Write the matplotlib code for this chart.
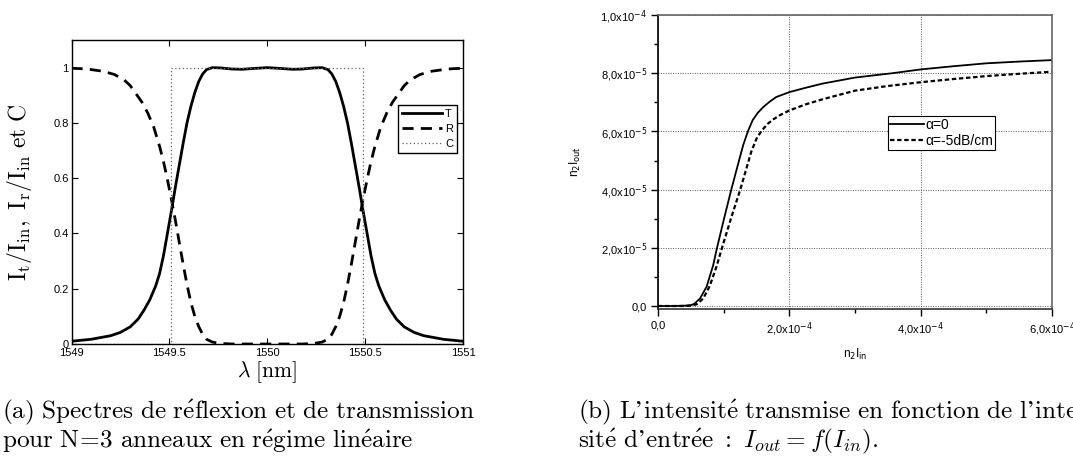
import matplotlib
matplotlib.use("Agg")
import matplotlib.pyplot as plt
import numpy as np

# (a) spectra, N=3 rings, linear regime
wavelength_t = [1549.00, 1549.10, 1549.20, 1549.25, 1549.30, 1549.34, 1549.37, 1549.40,
                1549.43, 1549.45, 1549.47, 1549.49, 1549.51, 1549.53, 1549.55, 1549.57,
                1549.59, 1549.61, 1549.63, 1549.65, 1549.67, 1549.69, 1549.72, 1549.76,
                1549.82, 1549.87, 1549.93, 1550.00, 1550.07, 1550.13, 1550.18, 1550.24,
                1550.28, 1550.31, 1550.33, 1550.35, 1550.37, 1550.39, 1550.41, 1550.43,
                1550.45, 1550.47, 1550.49, 1550.51, 1550.53, 1550.55, 1550.57, 1550.60,
                1550.63, 1550.66, 1550.70, 1550.75, 1550.80, 1550.90, 1551.00]
transmission = [0.010, 0.017, 0.030, 0.042, 0.062, 0.090, 0.122, 0.160,
                0.210, 0.255, 0.320, 0.400, 0.480, 0.565, 0.645, 0.725,
                0.800, 0.860, 0.910, 0.950, 0.977, 0.993, 1.000, 0.999,
                0.995, 0.994, 0.997, 1.000, 0.997, 0.994, 0.995, 0.999,
                1.000, 0.993, 0.977, 0.950, 0.910, 0.860, 0.800, 0.725,
                0.645, 0.565, 0.480, 0.400, 0.320, 0.255, 0.210, 0.160,
                0.122, 0.090, 0.062, 0.042, 0.030, 0.017, 0.010]

wavelength_r = [1549.00, 1549.08, 1549.16, 1549.22, 1549.27, 1549.30, 1549.33, 1549.36,
                1549.39, 1549.42, 1549.45, 1549.47, 1549.49, 1549.51, 1549.53, 1549.55,
                1549.57, 1549.59, 1549.61, 1549.63, 1549.65, 1549.67, 1549.69, 1549.72,
                1549.76, 1549.82, 1549.90, 1550.00, 1550.10, 1550.18, 1550.24, 1550.28,
                1550.31, 1550.33, 1550.35, 1550.37, 1550.39, 1550.41, 1550.43, 1550.45,
                1550.47, 1550.49, 1550.51, 1550.53, 1550.55, 1550.58, 1550.61, 1550.64,
                1550.67, 1550.70, 1550.73, 1550.78, 1550.84, 1550.92, 1551.00]
reflection = [0.998, 0.995, 0.987, 0.975, 0.955, 0.935, 0.905, 0.875,
              0.835, 0.785, 0.715, 0.660, 0.595, 0.525, 0.450, 0.370,
              0.290, 0.215, 0.150, 0.100, 0.063, 0.035, 0.017, 0.007,
              0.002, 0.000, 0.000, 0.000, 0.000, 0.000, 0.002, 0.007,
              0.017, 0.035, 0.063, 0.100, 0.150, 0.215, 0.290, 0.370,
              0.450, 0.525, 0.595, 0.660, 0.715, 0.785, 0.835, 0.875,
              0.905, 0.935, 0.955, 0.975, 0.987, 0.995, 0.998]

wavelength_c = [1549.00, 1549.51, 1549.51, 1550.49, 1550.49, 1551.00]
coupling = [0, 0, 1, 1, 0, 0]

xticks_a = [1549, 1549.5, 1550, 1550.5, 1551]
xlabels_a = ["1549", "1549.5", "1550", "1550.5", "1551"]
yticks_a = [0, 0.2, 0.4, 0.6, 0.8, 1.0]
ylabels_a = ["0", "0.2", "0.4", "0.6", "0.8", "1"]

# (b) transmitted vs input intensity
n2_iin_0 = [0, 0.2e-4, 0.4e-4, 0.5e-4, 0.55e-4, 0.64e-4, 0.74e-4, 0.84e-4, 0.899e-4,
            1.0e-4, 1.116e-4, 1.24e-4, 1.30e-4, 1.369e-4, 1.44e-4, 1.52e-4, 1.6e-4,
            1.7e-4, 1.8e-4, 2.0e-4, 2.25e-4, 2.5e-4, 3.0e-4, 3.57e-4, 4.0e-4, 4.5e-4,
            5.0e-4, 5.5e-4, 6.0e-4]
n2_iout_0 = [0, 0, 0.01e-5, 0.03e-5, 0.07e-5, 0.26e-5, 0.66e-5, 1.40e-5, 2.0e-5,
             2.95e-5, 4.0e-5, 5.05e-5, 5.55e-5, 6.0e-5, 6.38e-5, 6.64e-5, 6.83e-5,
             7.02e-5, 7.18e-5, 7.35e-5, 7.50e-5, 7.64e-5, 7.85e-5, 8.0e-5, 8.13e-5, 8.24e-5,
             8.34e-5, 8.40e-5, 8.45e-5]

n2_iin_5 = [0, 0.2e-4, 0.4e-4, 0.5e-4, 0.59e-4, 0.69e-4, 0.79e-4, 0.89e-4, 0.975e-4,
            1.11e-4, 1.253e-4, 1.33e-4, 1.42e-4, 1.50e-4, 1.57e-4, 1.67e-4, 1.76e-4,
            1.85e-4, 2.0e-4, 2.25e-4, 2.5e-4, 3.0e-4, 3.5e-4, 4.0e-4, 4.5e-4, 5.0e-4,
            5.5e-4, 6.0e-4]
n2_iout_5 = [0, 0, 0, 0.01e-5, 0.06e-5, 0.26e-5, 0.70e-5, 1.35e-5, 2.0e-5,
             3.0e-5, 4.0e-5, 4.6e-5, 5.3e-5, 5.75e-5, 6.0e-5, 6.26e-5, 6.42e-5,
             6.55e-5, 6.72e-5, 6.93e-5, 7.10e-5, 7.40e-5, 7.56e-5, 7.69e-5, 7.80e-5, 7.90e-5,
             7.98e-5, 8.05e-5]

xticks_b = [0, 2e-4, 4e-4, 6e-4]
xlabels_b = ["0,0", "2,0x10$^{-4}$", "4,0x10$^{-4}$", "6,0x10$^{-4}$"]
yticks_b = [0, 2e-5, 4e-5, 6e-5, 8e-5, 1e-4]
ylabels_b = ["0,0", "2,0x10$^{-5}$", "4,0x10$^{-5}$", "6,0x10$^{-5}$",
             "8,0x10$^{-5}$", "1,0x10$^{-4}$"]

caption_a = ["(a) Spectres de réflexion et de transmission",
             "pour N=3 anneaux en régime linéaire"]
caption_b = ["(b) L'intensité transmise en fonction de l'inten-",
             "sité d'entrée :"]
caption_b_math = r"I_{out} = f(I_{in})."


def tex_roman(s):
    # plain caption text -> Computer Modern roman through mathtext
    s = s.replace("é", r"\acute{e}").replace("'", "\u2019").replace(" ", r"\ ")
    s = s.replace("=", r"\!=\!")
    return r"\mathrm{" + s + "}"


def main():
    plt.rcParams["mathtext.fontset"] = "cm"
    plt.rcParams["font.family"] = ["Liberation Sans", "DejaVu Sans"]

    fig = plt.figure(figsize=(10.73, 4.67), dpi=100)
    W, H = 1073, 467

    # ---- left panel
    ax = fig.add_axes([71.5 / W, 1 - 344 / H, (463 - 71.5) / W, (344 - 40) / H])
    ax.plot(wavelength_t, transmission, color="k", lw=2.0, label="T")
    ax.plot(wavelength_r, reflection, color="k", lw=2.0, dashes=(4, 2.6), label="R")
    ax.plot(wavelength_c, coupling, color="#666666", lw=0.9, ls=(0, (1, 2)), label="C")
    ax.set_xlim(1549, 1551)
    ax.set_ylim(0, 1.1)
    ax.set_xticks(xticks_a)
    ax.set_xticklabels(xlabels_a)
    ax.set_yticks(yticks_a)
    ax.set_yticklabels(ylabels_a)
    ax.tick_params(direction="in", top=True, right=True, length=4, width=0.8,
                   labelsize=8, pad=2)
    ax.tick_params(axis="x", pad=3)
    for sp in ax.spines.values():
        sp.set_linewidth(1.0)
    ax.set_xlabel(r"$\lambda\ \mathrm{[nm]}$", fontsize=15.5, labelpad=1)
    ax.set_ylabel(r"$\mathrm{I_t/I_{in},\ I_r/I_{in}\ et\ C}$", fontsize=17)
    ax.yaxis.set_label_coords(-0.095, 0.5)
    leg = ax.legend(loc="upper right", bbox_to_anchor=(0.985, 0.786), fontsize=8,
                    handlelength=3.6, handletextpad=0.3, labelspacing=0.45,
                    borderpad=0.35, borderaxespad=0, fancybox=False, framealpha=1)
    leg.get_frame().set_edgecolor("k")
    leg.get_frame().set_linewidth(1.0)

    # ---- right panel
    bx = fig.add_axes([658 / W, 1 - 309 / H, 394 / W, 294 / H])
    bx.plot(n2_iin_0, n2_iout_0, color="k", lw=1.3, label="α=0")
    bx.plot(n2_iin_5, n2_iout_5, color="k", lw=1.6, dashes=(2, 1.2), label="α=-5dB/cm")
    bx.set_xlim(0, 6e-4)
    bx.set_ylim(-1.03e-6, 1e-4)
    bx.set_xticks(xticks_b)
    bx.set_xticklabels(xlabels_b, math_fontfamily="dejavusans")
    bx.set_yticks(yticks_b)
    bx.set_yticklabels(ylabels_b, math_fontfamily="dejavusans")
    bx.set_xticks(np.arange(1e-4, 6e-4, 2e-4), minor=True)
    bx.set_yticks(np.arange(1e-5, 1e-4, 2e-5), minor=True)
    bx.tick_params(which="major", direction="out", length=5, width=1.0,
                   labelsize=8, pad=3)
    bx.tick_params(which="minor", direction="out", length=3, width=1.0)
    bx.grid(True, which="major", color="#555555", ls=(0, (1, 1.5)), lw=0.7)
    bx.spines["left"].set_linewidth(1.2)
    bx.spines["bottom"].set_linewidth(1.2)
    bx.spines["bottom"].set_color("#333333")
    for side in ("top", "right"):
        bx.spines[side].set_linewidth(1.2)
        bx.spines[side].set_color("#666666")
    bx.set_ylabel(r"n$_2$I$_{\mathrm{out}}$", fontsize=8.5, math_fontfamily="dejavusans")
    bx.yaxis.set_label_coords(-0.19, 0.5)
    bx.set_xlabel(r"n$_2$I$_{\mathrm{in}}$", fontsize=8.5, math_fontfamily="dejavusans")
    bx.xaxis.set_label_coords(0.5, -0.13)
    leg2 = bx.legend(loc="upper left", bbox_to_anchor=(0.584, 0.656), fontsize=10,
                     handlelength=2.4, handletextpad=0.1, labelspacing=0.1,
                     borderpad=0.15, borderaxespad=0, fancybox=False, framealpha=1)
    leg2.get_frame().set_edgecolor("k")
    leg2.get_frame().set_linewidth(0.8)

    # ---- captions
    cap = dict(fontsize=18.2, va="center", ha="left")
    fig.text(2 / W, 1 - 412 / H, "$" + tex_roman(caption_a[0]) + "$", **cap)
    fig.text(2 / W, 1 - 441 / H, "$" + tex_roman(caption_a[1]) + "$", **cap)
    fig.text(578 / W, 1 - 412 / H, "$" + tex_roman(caption_b[0]) + "$", **cap)
    fig.text(578 / W, 1 - 441 / H,
             "$" + tex_roman(caption_b[1]) + r"\ " + caption_b_math + "$", **cap)

    fig.savefig("out.png", dpi=100)


if __name__ == "__main__":
    main()
